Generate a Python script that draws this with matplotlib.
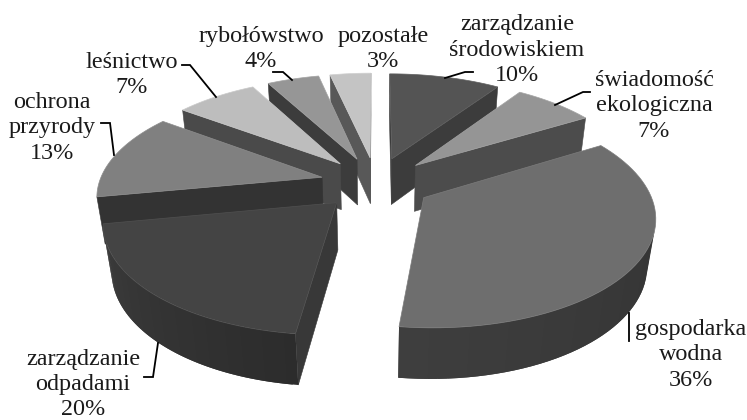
import numpy as np
import matplotlib
matplotlib.use("Agg")
import matplotlib.pyplot as plt
from matplotlib.colors import to_rgb
from matplotlib.patches import Polygon

labels = ["zarządzanie\nśrodowiskiem\n10%", "świadomość\nekologiczna\n7%", "gospodarka\nwodna\n36%",
          "zarządzanie\nodpadami\n20%", "ochrona\nprzyrody\n13%", "leśnictwo\n7%",
          "rybołówstwo\n4%", "pozostałe\n3%"]
# the labels only give whole percents
values = [9.5, 6.9, 35.55, 20.05, 13.0, 7.0, 4.45, 3.49]

top_colors = ["#545454", "#959595", "#6e6e6e", "#444444", "#808080", "#bdbdbd", "#969696", "#c4c4c4"]
edge_colors = ["#606060", "#a4a4a4", "#7c7c7c", "#505050", "#8e8e8e", "#cacaca", "#a4a4a4", "#d0d0d0"]
wall_colors = ["#3c3c3c", "#4c4c4c", "#313131", "#383838", "#333333", "#4a4a4a", "#3c3c3c", "#585858"]
# outer wall runs from one shade to another along the arc
arc_start = ["#3c3c3c", "#4c4c4c", "#303030", "#2c2c2c", "#333333", "#4a4a4a", "#3c3c3c", "#585858"]
arc_end = ["#3c3c3c", "#4c4c4c", "#3e3e3e", "#3c3c3c", "#333333", "#4a4a4a", "#3c3c3c", "#585858"]

label_xy = [(517, 50), (654, 106), (691, 355), (83, 384.5), (52, 128), (132, 75), (261, 49), (383, 49)]
leaders = [
    [(445, 78), (465, 72), (473, 72)],
    [(555, 105), (583, 92), (590, 92)],
    [(629, 313), (629, 341)],
    [(158, 343), (153, 377), (144, 377)],
    [(114, 155), (110, 123), (101, 123)],
    [(216, 97), (190, 65), (182, 65)],
    [(292, 80), (283, 72), (273, 72)],
]

# camera settings for the tilted pie
cx, cy = 376, 183
ax_scale, ay_scale, z_scale = 223, 105, 48
persp, persp_z = 0.155, 0.03
explode = 0.25
start_deg = 0


def project(x, y, z=0.0):
    w = 1 + persp * y + persp_z * z
    return cx + ax_scale * x / w, cy - (ay_scale * y - z_scale * z) / w


def area(pts):
    a = 0
    for i in range(len(pts)):
        x0, y0 = pts[i]
        x1, y1 = pts[(i + 1) % len(pts)]
        a += x0 * y1 - x1 * y0
    return a / 2


fig = plt.figure(figsize=(7.47, 4.2), dpi=100)
ax = fig.add_axes([0, 0, 1, 1])
ax.set_xlim(0, 747)
ax.set_ylim(420, 0)
ax.axis("off")

# build the slices from the values
edges = np.deg2rad(start_deg + np.cumsum([0] + values) / sum(values) * 360)
slices = []
for i in range(len(values)):
    mid = (edges[i] + edges[i + 1]) / 2
    ox, oy = explode * np.sin(mid), explode * np.cos(mid)
    th = np.linspace(edges[i], edges[i + 1], 60)
    xs = np.r_[ox, ox + np.sin(th)]
    ys = np.r_[oy, oy + np.cos(th)]
    slices.append((oy, i, xs, ys))

# far slices first
for oy, i, xs, ys in sorted(slices, key=lambda s: -s[0]):
    top = [project(x, y, 0) for x, y in zip(xs, ys)]
    bot = [project(x, y, 1) for x, y in zip(xs, ys)]
    n = len(top)
    # flat walls from the apex
    for j in (0, n - 1):
        k = (j + 1) % n
        quad = [top[j], top[k], bot[k], bot[j]]
        if area(quad) < 0:
            ax.add_patch(Polygon(quad, closed=True, fc=wall_colors[i], ec=wall_colors[i], lw=0.4))
    # outer wall, each strip overlaps the next so no seams show
    c0, c1 = np.array(to_rgb(arc_start[i])), np.array(to_rgb(arc_end[i]))
    for j in range(1, n - 1):
        quad = [top[j], top[j + 1], bot[j + 1], bot[j]]
        if area(quad) < 0:
            end = min(j + 2, n - 1)
            col = c0 + (c1 - c0) * (j - 1) / (n - 3)
            ax.add_patch(Polygon([top[j], top[end], bot[end], bot[j]], closed=True, fc=col, ec="none"))
    ax.add_patch(Polygon(top, closed=True, fc=top_colors[i], ec=edge_colors[i], lw=0.5))

for pts in leaders:
    ax.plot([p[0] for p in pts], [p[1] for p in pts], color="black", lw=1.3, solid_joinstyle="miter")

for lab, (x, y) in zip(labels, label_xy):
    ax.text(x, y, lab, ha="center", va="center", fontsize=17.4, family="Liberation Serif",
            color="#1a1a1a", linespacing=1.27)

fig.savefig("out.png", dpi=100)
